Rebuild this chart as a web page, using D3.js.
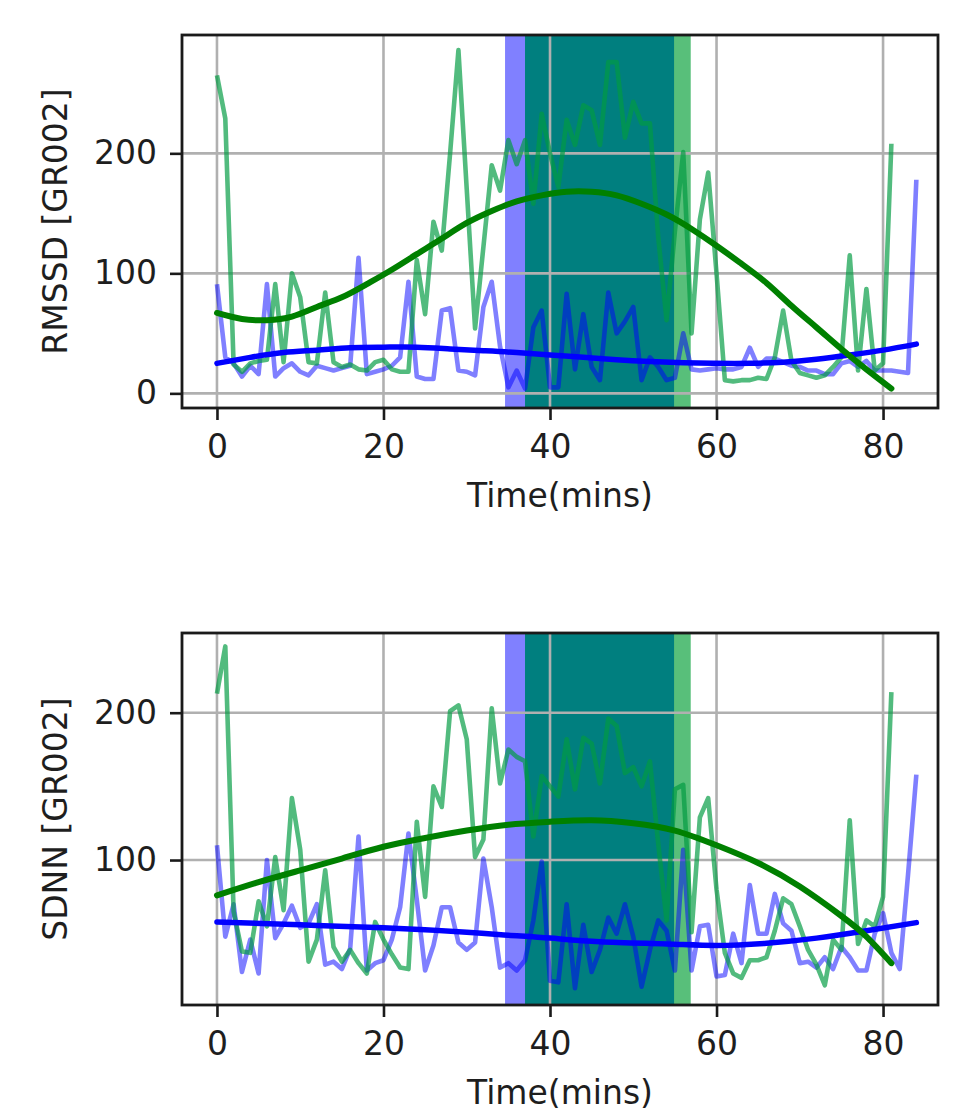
<!DOCTYPE html>
<html><head><meta charset="utf-8">
<script src="https://cdn.jsdelivr.net/npm/d3@7"></script>
<style>html,body{margin:0;padding:0;background:#fff;} svg{display:block;}</style>
</head><body>
<svg id="chart" width="974" height="1118"></svg>
<script>
// ---------------- DATA ----------------
const minutesBlue = [0,1,2,3,4,5,6,7,8,9,10,11,12,13,14,15,16,17,18,19,20,21,22,23,24,25,26,27,28,29,30,31,32,33,34,35,36,37,38,39,40,41,42,43,44,45,46,47,48,49,50,51,52,53,54,55,56,57,58,59,60,61,62,63,64,65,66,67,68,69,70,71,72,73,74,75,76,77,78,79,80,81,82,83,84];
const minutesGreen = [0,1,2,3,4,5,6,7,8,9,10,11,12,13,14,15,16,17,18,19,20,21,22,23,24,25,26,27,28,29,30,31,32,33,34,35,36,37,38,39,40,41,42,43,44,45,46,47,48,49,50,51,52,53,54,55,56,57,58,59,60,61,62,63,64,65,66,67,68,69,70,71,72,73,74,75,76,77,78,79,80,81];

// RMSSD raw
const rmssdBlue = [91,30,25,14,23,16,91,14,21,25,18,15,23,21,19,21,23,113,16,18,20,23,30,93,14,12,12,69,71,19,18,15,72,93,39,5,19,4,55,69,5,5,83,20,66,22,11,84,50,60,72,11,30,22,11,13,50,20,19,20,21,20,20,22,38,22,29,29,26,23,22,19,19,16,16,25,27,22,27,19,19,19,18,17,178];
const rmssdGreen = [265,229,24,18,25,27,28,91,26,100,80,26,25,84,26,22,24,20,19,26,28,20,18,18,111,66,143,119,200,286,170,54,122,190,169,211,191,211,158,233,200,172,228,207,240,236,207,276,276,213,243,225,225,130,61,135,201,50,145,184,100,11,10,11,11,13,12,30,69,27,17,15,13,15,22,30,115,19,87,19,25,208];
// RMSSD trend lines (read at sample minutes)
const rmssdBlueTrendT = [0,4,8,12,16,20,24,28,32,36,40,44,48,52,56,60,64,68,72,76,80,84];
const rmssdBlueTrendV = [25,30,34,36,38,38.5,38.5,37,35.5,34,32,30,28,26.5,25.5,25,25,26,28.5,32,36,41];
const rmssdGreenTrendT = [0,3,6,9,12,15,18,21,24,27,30,33,36,39,42,45,48,51,54,57,60,63,66,69,72,75,78,81];
const rmssdGreenTrendV = [67,62,61,64,72,80,91,103,116,129,142,152,160,165,168,168,165,158,149,137,123,108,92,73,55,37,20,4];

// SDNN raw
const sdnnBlue = [110,48,70,24,46,23,100,47,57,69,54,57,70,29,31,26,40,116,25,30,32,46,68,118,73,25,42,68,68,44,39,44,101,68,27,30,25,32,59,99,18,17,70,13,56,24,39,61,50,70,48,14,39,59,52,25,107,25,55,56,21,22,50,30,83,50,50,77,57,52,30,31,27,34,26,41,34,25,25,50,64,37,26,90,158];
const sdnnGreen = [213,245,65,38,37,72,55,102,66,142,107,31,46,93,41,31,39,30,23,58,46,36,27,26,126,75,150,136,201,205,182,102,114,203,152,175,170,167,116,157,150,143,182,148,183,179,152,196,191,159,163,150,167,111,59,148,151,51,129,142,80,37,23,20,32,32,34,52,74,70,55,39,29,15,46,39,127,43,59,55,75,214];
const sdnnBlueTrendT = [0,10,20,30,35,40,46,54,60,66,72,78,84];
const sdnnBlueTrendV = [58,56,54,51,49,47,44.5,43,42,43.5,47,52,57.5];
const sdnnGreenTrendT = [0,5,10,15,20,25,30,35,40,45,50,55,60,65,70,75,78,81];
const sdnnGreenTrendV = [76,85,93,101,109,115,120,124,126,127,125,120,110,98,82,62,48,30];

// shaded intervals (minutes)
const spanBlue = [34.6, 54.9];
const spanGreen = [37.0, 56.9];

const xTicks = [0,20,40,60,80];
const rmssdTicks = [0,100,200];
const sdnnTicks = [100,200];

// ---------------- DRAW ----------------
const svg = d3.select('#chart');
const FONT = 'DejaVu Sans, Verdana, sans-serif';
const TXT = '#1e1e1e';
const left = 182, right = 938;
const x = d3.scaleLinear().domain([-4.2, 86.6]).range([left, right]);

const panels = [
  {top:35, bottom:408, yDomain:[-12.2, 298.6], ticks:rmssdTicks, label:'RMSSD [GR002]',
   blue:rmssdBlue, green:rmssdGreen, bT:rmssdBlueTrendT, bV:rmssdBlueTrendV, gT:rmssdGreenTrendT, gV:rmssdGreenTrendV},
  {top:633, bottom:1005, yDomain:[1.6, 254.1], ticks:sdnnTicks, label:'SDNN [GR002]',
   blue:sdnnBlue, green:sdnnGreen, bT:sdnnBlueTrendT, bV:sdnnBlueTrendV, gT:sdnnGreenTrendT, gV:sdnnGreenTrendV}
];

panels.forEach((p, i) => {
  const y = d3.scaleLinear().domain(p.yDomain).range([p.bottom, p.top]);
  const g = svg.append('g');
  const clipId = 'clip' + i;
  svg.append('defs').append('clipPath').attr('id', clipId)
    .append('rect').attr('x', left).attr('y', p.top).attr('width', right-left).attr('height', p.bottom-p.top);
  const plot = g.append('g').attr('clip-path', `url(#${clipId})`);

  // spans
  const h = p.bottom - p.top;
  plot.append('rect').attr('x', x(spanBlue[0])).attr('y', p.top)
    .attr('width', x(spanBlue[1]) - x(spanBlue[0])).attr('height', h).attr('fill', '#8080ff');
  plot.append('rect').attr('x', x(spanGreen[0])).attr('y', p.top)
    .attr('width', x(spanGreen[1]) - x(spanGreen[0])).attr('height', h).attr('fill', '#58bf7a');
  const ov0 = Math.max(spanBlue[0], spanGreen[0]), ov1 = Math.min(spanBlue[1], spanGreen[1]);
  plot.append('rect').attr('x', x(ov0)).attr('y', p.top)
    .attr('width', x(ov1) - x(ov0)).attr('height', h).attr('fill', '#007f7f');

  // grid
  xTicks.forEach(t => plot.append('line').attr('x1', x(t)).attr('x2', x(t)).attr('y1', p.top).attr('y2', p.bottom)
    .attr('stroke', '#b0b0b0').attr('stroke-width', 2.6));
  p.ticks.forEach(t => plot.append('line').attr('x1', left).attr('x2', right).attr('y1', y(t)).attr('y2', y(t))
    .attr('stroke', '#b0b0b0').attr('stroke-width', 2.6));

  // raw lines
  const line = d3.line().x(d => x(d[0])).y(d => y(d[1]));
  const bluePts = p.blue.map((v, k) => [minutesBlue[k], v]);
  const greenPts = p.green.map((v, k) => [minutesGreen[k], v]);
  plot.append('path').attr('d', line(bluePts)).attr('fill', 'none')
    .attr('stroke', '#0000ff').attr('stroke-opacity', 0.5).attr('stroke-width', 4.6).attr('stroke-linejoin', 'round');
  plot.append('path').attr('d', line(greenPts)).attr('fill', 'none')
    .attr('stroke', 'rgb(0,155,65)').attr('stroke-opacity', 0.68).attr('stroke-width', 4.6).attr('stroke-linejoin', 'round');

  // trends
  const smooth = d3.line().x(d => x(d[0])).y(d => y(d[1])).curve(d3.curveNatural);
  plot.append('path').attr('d', smooth(p.bT.map((t, k) => [t, p.bV[k]]))).attr('fill', 'none')
    .attr('stroke', '#0000ff').attr('stroke-width', 5.5).attr('stroke-linecap', 'round');
  plot.append('path').attr('d', smooth(p.gT.map((t, k) => [t, p.gV[k]]))).attr('fill', 'none')
    .attr('stroke', '#008000').attr('stroke-width', 6).attr('stroke-linecap', 'round');

  // frame
  g.append('rect').attr('x', left).attr('y', p.top).attr('width', right-left).attr('height', h)
    .attr('fill', 'none').attr('stroke', '#1a1a1a').attr('stroke-width', 2.8);

  // x axis
  const xAxis = d3.axisBottom(x).tickValues(xTicks).tickSize(12).tickPadding(15).tickFormat(d3.format('d'));
  const xa = g.append('g').attr('transform', `translate(0,${p.bottom})`).call(xAxis);
  xa.select('.domain').remove();
  xa.selectAll('line').attr('stroke', '#1a1a1a').attr('stroke-width', 2.6);
  xa.selectAll('text').attr('font-family', FONT).attr('font-size', 33).attr('fill', TXT);

  // y axis
  const yAxis = d3.axisLeft(y).tickValues(p.ticks).tickSize(12).tickPadding(13).tickFormat(d3.format('d'));
  const ya = g.append('g').attr('transform', `translate(${left},0)`).call(yAxis);
  ya.select('.domain').remove();
  ya.selectAll('line').attr('stroke', '#1a1a1a').attr('stroke-width', 2.6);
  ya.selectAll('text').attr('font-family', FONT).attr('font-size', 33).attr('fill', TXT);

  // labels
  g.append('text').attr('x', (left+right)/2).attr('y', p.bottom + 99)
    .attr('text-anchor', 'middle').attr('font-family', FONT).attr('font-size', 33).attr('fill', TXT)
    .text('Time(mins)');
  g.append('text').attr('transform', `translate(67,${(p.top+p.bottom)/2}) rotate(-90)`)
    .attr('text-anchor', 'middle').attr('font-family', FONT).attr('font-size', 33).attr('fill', TXT)
    .text(p.label);
});
</script>
</body></html>
